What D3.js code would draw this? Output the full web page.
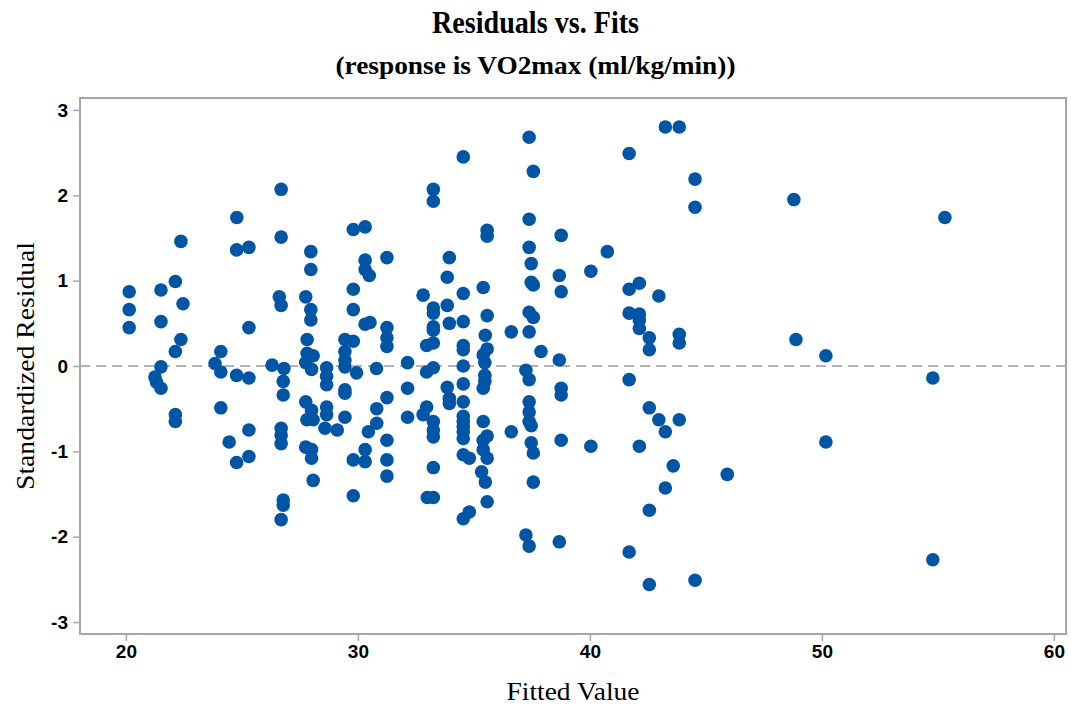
<!DOCTYPE html>
<html>
<head>
<meta charset="utf-8">
<script src="https://cdn.jsdelivr.net/npm/d3@7"></script>
<style>
  html, body { margin: 0; padding: 0; background: #fff; }
  svg { display: block; }
</style>
</head>
<body>
<svg id="chart" width="1071" height="706"></svg>
<script>
// Fitted values and standardized residuals for the VO2max regression model
const fittedValues = [
  20.14, 20.14, 20.14, 21.51, 21.51, 21.51, 21.25, 21.32, 21.51, 22.13,
  22.46, 22.37, 22.37, 22.13, 22.13, 22.13, 24.78, 24.77, 25.30, 25.30,
  24.09, 23.84, 24.09, 24.77, 25.30, 24.09, 25.30, 24.45, 25.30, 24.77,
  26.30, 26.69, 26.69, 26.61, 26.69, 26.81, 26.78, 26.78, 26.69, 26.69,
  26.69, 26.78, 26.78, 26.69, 27.97, 27.97, 27.75, 27.97, 27.97, 27.81,
  27.81, 28.07, 27.75, 28.00, 27.75, 28.00, 27.80, 28.07, 27.75, 28.00,
  28.00, 28.07, 28.65, 28.65, 28.65, 28.65, 28.65, 28.58, 29.11, 29.44,
  29.44, 29.44, 29.44, 29.44, 29.44, 29.44, 29.80, 29.80, 29.80, 29.80,
  29.94, 29.80, 29.80, 30.31, 30.31, 30.31, 30.49, 30.31, 30.52, 30.80,
  30.81, 30.81, 30.45, 30.31, 30.31, 31.25, 31.25, 31.25, 31.25, 31.25,
  31.25, 31.25, 31.25, 32.14, 32.14, 32.14, 32.81, 32.96, 32.96, 32.96,
  32.81, 32.99, 33.25, 33.25, 33.25, 33.25, 33.25, 33.25, 33.25, 33.25,
  33.25, 33.25, 33.25, 33.25, 33.25, 33.94, 33.85, 33.85, 33.94, 33.85,
  33.94, 33.94, 34.54, 34.54, 34.54, 34.54, 34.54, 34.54, 34.54, 34.54,
  34.54, 34.54, 34.54, 34.54, 34.54, 34.54, 34.80, 34.80, 34.54, 35.57,
  35.57, 35.40, 35.57, 35.49, 35.57, 35.40, 35.47, 35.47, 35.47, 35.40,
  35.40, 35.57, 35.40, 35.40, 35.57, 35.33, 35.49, 35.57, 36.61, 36.61,
  37.38, 37.56, 37.38, 37.38, 37.47, 37.47, 37.56, 37.38, 37.56, 37.38,
  37.89, 37.24, 37.38, 37.38, 37.38, 37.38, 37.47, 37.47, 37.56, 37.56,
  37.24, 37.38, 38.76, 38.68, 38.76, 38.68, 38.76, 38.76, 38.76, 38.68,
  40.04, 40.04, 40.75, 41.69, 41.69, 41.69, 41.69, 41.69, 42.13, 42.13,
  42.13, 42.13, 42.13, 42.56, 42.56, 42.56, 42.56, 42.56, 42.97, 42.97,
  43.25, 43.25, 43.25, 43.59, 43.85, 43.85, 43.85, 43.85, 44.53, 44.53,
  44.53, 45.92, 48.79, 48.88, 50.17, 50.17, 54.78, 54.78, 55.30
];

const standardizedResiduals = [
   0.87,  0.66,  0.45,  0.89,  0.52, -0.01, -0.13, -0.19, -0.26,  0.99,
   0.73,  1.46,  0.31,  0.17, -0.57, -0.65,  1.74,  1.36,  1.39,  0.45,
   0.17,  0.03, -0.07, -0.11, -0.14, -0.49, -0.75, -0.89, -1.06, -1.13,
   0.01,  2.07,  1.51,  0.81,  0.71, -0.03, -0.18, -0.34, -0.73, -0.81,
  -0.91, -1.57, -1.63, -1.80,  1.34,  1.13,  0.81,  0.66,  0.54,  0.31,
   0.15,  0.12,  0.04, -0.04, -0.42, -0.52, -0.63, -0.63, -0.95, -0.98,
  -1.08, -1.34, -0.02, -0.12, -0.22, -0.48, -0.57, -0.73, -0.75,  0.31,
   0.17,  0.07, -0.01, -0.28, -0.32, -0.60,  1.60,  0.90,  0.66,  0.29,
  -0.08, -1.10, -1.52,  1.63,  1.24,  1.13,  1.06,  0.49,  0.51, -0.03,
  -0.50, -0.67, -0.77, -0.98, -1.12,  1.27,  0.45,  0.33,  0.23, -0.37,
  -0.87, -1.10, -1.29,  0.04, -0.26, -0.60,  0.83,  0.24, -0.07, -0.48,
  -0.57, -1.54,  2.07,  1.93,  0.68,  0.62,  0.46,  0.42,  0.27, -0.02,
  -0.65, -0.75, -0.83, -1.19, -1.54,  1.27,  1.04,  0.71,  0.50, -0.25,
  -0.38, -0.44,  2.45,  0.85,  0.52,  0.24,  0.19,  0.00, -0.21, -0.42,
  -0.59, -0.65, -0.71, -0.77, -0.85, -1.04, -1.08, -1.71, -1.79,  1.59,
   1.52,  0.92,  0.59,  0.36,  0.20,  0.13,  0.04, -0.11, -0.18, -0.26,
  -0.65, -0.82, -0.87, -0.98, -1.08, -1.24, -1.36, -1.59,  0.40, -0.77,
   2.68,  2.28,  1.72,  1.39,  1.20,  0.98,  0.95,  0.63,  0.57,  0.40,
   0.17, -0.05, -0.16, -0.42, -0.54, -0.65, -0.70, -0.90, -1.02, -1.36,
  -1.98, -2.11,  1.53,  1.06,  0.87,  0.07, -0.26, -0.34, -0.87, -2.06,
   1.11, -0.94,  1.34,  2.49,  0.90,  0.62, -0.16, -2.18,  0.97,  0.61,
   0.54,  0.44, -0.94,  0.33,  0.19, -0.49, -1.69, -2.56,  0.82, -0.63,
   2.80, -0.77, -1.43, -1.17,  2.80,  0.37,  0.27, -0.63,  2.19,  1.86,
  -2.51, -1.27,  1.95,  0.31,  0.12, -0.89, -0.14, -2.27,  1.74
];

const xTicks = [20, 30, 40, 50, 60];
const yTicks = [-3, -2, -1, 0, 1, 2, 3];

const chartTitle = "Residuals vs. Fits";
const chartSubtitle = "(response is VO2max (ml/kg/min))";
const xAxisTitle = "Fitted Value";
const yAxisTitle = "Standardized Residual";

const points = fittedValues.map((f, i) => ({ fit: f, res: standardizedResiduals[i] }));

const width = 1071, height = 706;
const margin = { top: 98, right: 5, bottom: 72, left: 80 };
const plotW = width - margin.left - margin.right;
const plotH = height - margin.top - margin.bottom;

const svg = d3.select("#chart");

const x = d3.scaleLinear().domain([18.02, 60.52]).range([margin.left, margin.left + plotW]);
const y = d3.scaleLinear().domain([-3.14, 3.14]).range([margin.top + plotH, margin.top]);

const axisColor = "#a6a6a6";
const serif = "'Liberation Serif', 'Times New Roman', serif";
const sans = "'Liberation Sans', Arial, sans-serif";

// Condensed serif text helper: fixed rendered width
function condensedText(sel, str, size, weight, len) {
  return sel.append("text")
    .attr("text-anchor", "middle")
    .attr("font-family", serif)
    .attr("font-size", size)
    .attr("font-weight", weight)
    .attr("fill", "#000")
    .attr("textLength", len)
    .attr("lengthAdjust", "spacingAndGlyphs")
    .text(str);
}

// Titles
condensedText(svg, chartTitle, 31, "bold", 207)
  .attr("x", width / 2).attr("y", 33);

condensedText(svg, chartSubtitle, 25, "bold", 400)
  .attr("x", width / 2).attr("y", 74);

// Zero reference line
svg.append("line")
  .attr("x1", margin.left).attr("x2", margin.left + plotW)
  .attr("y1", y(0)).attr("y2", y(0))
  .attr("stroke", "#9a9a9a").attr("stroke-width", 1.6)
  .attr("stroke-dasharray", "10,6");

// Axes
const tickFmt = d => String(d);
const xAxis = svg.append("g")
  .attr("transform", `translate(0,${margin.top + plotH})`)
  .call(d3.axisBottom(x).tickValues(xTicks).tickSize(7).tickPadding(4).tickFormat(tickFmt));

const yAxis = svg.append("g")
  .attr("transform", `translate(${margin.left},0)`)
  .call(d3.axisLeft(y).tickValues(yTicks).tickSize(7).tickPadding(5).tickFormat(tickFmt));

[xAxis, yAxis].forEach(g => {
  g.select(".domain").remove();
  g.selectAll(".tick line").attr("stroke", axisColor).attr("stroke-width", 1.5);
  g.selectAll(".tick text")
    .attr("font-family", sans).attr("font-size", 19).attr("font-weight", "bold")
    .attr("fill", "#000");
});

// Plot frame
svg.append("rect")
  .attr("x", margin.left).attr("y", margin.top)
  .attr("width", plotW).attr("height", plotH)
  .attr("fill", "none")
  .attr("stroke", axisColor).attr("stroke-width", 2);

// Points
svg.append("g")
  .selectAll("circle")
  .data(points)
  .join("circle")
  .attr("cx", d => x(d.fit))
  .attr("cy", d => y(d.res))
  .attr("r", 6.8)
  .attr("fill", "#0055a5");

// Axis titles
condensedText(svg, xAxisTitle, 26, "normal", 133)
  .attr("x", margin.left + plotW / 2).attr("y", 700);

condensedText(svg, yAxisTitle, 26, "normal", 248)
  .attr("transform", `translate(34,${margin.top + plotH / 2}) rotate(-90)`);
</script>
</body>
</html>
